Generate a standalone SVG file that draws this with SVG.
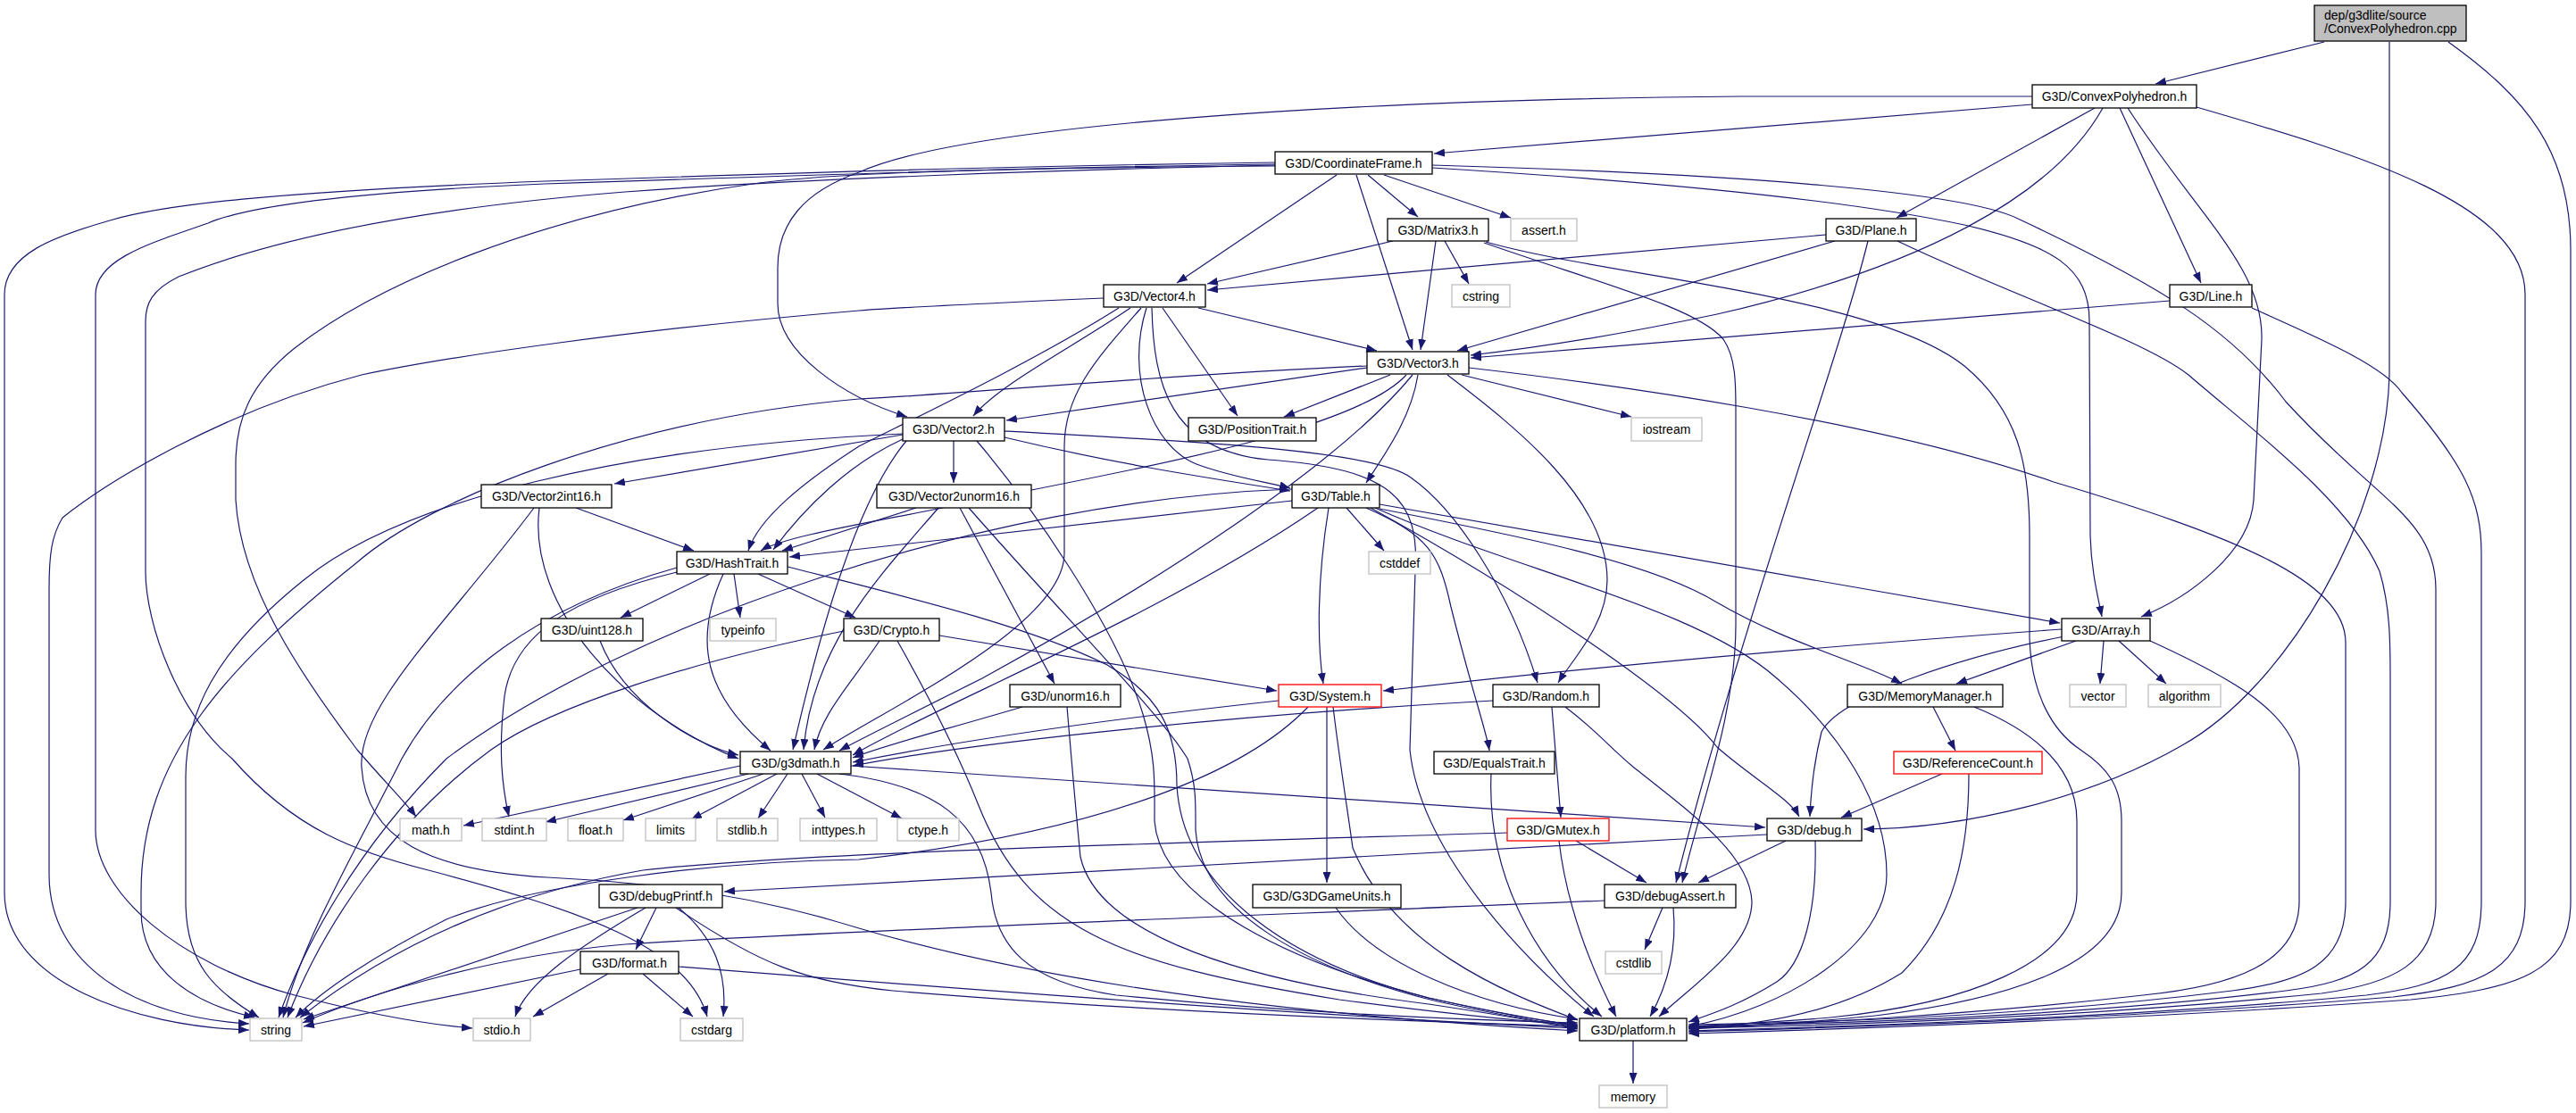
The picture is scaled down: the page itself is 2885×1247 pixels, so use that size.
<svg xmlns="http://www.w3.org/2000/svg" width="2885" height="1247" viewBox="0 0 2885 1247">
<defs>
<style>
.e{fill:none;stroke:#191970;stroke-width:1.2;marker-end:url(#a)}
.b rect{fill:#fff;stroke:#000;stroke-width:1.3}
.g rect{fill:#fff;stroke:#bfbfbf;stroke-width:1.3}
.r rect{fill:#fff;stroke:#ff0000;stroke-width:1.3}
.s rect{fill:#bfbfbf;stroke:#000;stroke-width:1.3}
text{font-family:"Liberation Sans",Arial,sans-serif;font-size:14px;text-anchor:middle;fill:#000}
.s text{text-anchor:start}
</style>
<marker id="a" viewBox="0 0 12 9" refX="12" refY="4.5" markerWidth="12" markerHeight="9" markerUnits="userSpaceOnUse" orient="auto"><path d="M0,0 L12,4.5 L0,9 z" fill="#191970"/></marker>
</defs>
<rect width="2885" height="1247" fill="#fff"/>
<g id="edges">
<path class="e" d="M2603,47 L2414,94"/>
<path class="e" d="M2676,47 L2676,420 C2672,580 2560,770 2444,835 C2340,895 2200,928 2087,929"/>
<path class="e" d="M2742,47 C2830,110 2879,170 2879,280 L2879,1010 C2879,1090 2820,1108 2700,1120 C2400,1142 2100,1152 1891,1158"/>
<path class="e" d="M2276,117 L1606,172"/>
<path class="e" d="M2276,108 L1950,108 C1500,112 1080,140 962,193 C900,215 871,250 871,300 L871,340 C871,395 945,445 1016,467"/>
<path class="e" d="M2346,121 L2124,244"/>
<path class="e" d="M2355,121 C2300,220 2150,300 1923,352 C1800,378 1700,392 1647,398"/>
<path class="e" d="M2374,121 L2465,317"/>
<path class="e" d="M2383,121 C2460,240 2535,300 2533,380 L2524,560 C2520,620 2450,670 2398,691"/>
<path class="e" d="M2460,120 C2650,175 2828,230 2828,330 L2828,1010 C2828,1085 2780,1106 2680,1117 C2400,1140 2100,1150 1891,1156"/>
<path class="e" d="M1497,196 L1318,317"/>
<path class="e" d="M1519,196 L1582,392"/>
<path class="e" d="M1532,196 L1588,243"/>
<path class="e" d="M1550,196 L1692,244"/>
<path class="e" d="M1604,188 C1800,200 2050,220 2200,252 C2300,275 2340,300 2340,360 L2341,600 C2342,640 2350,670 2354,691"/>
<path class="e" d="M1604,185 C1950,195 2200,215 2260,245 C2420,320 2500,370 2560,450 C2660,560 2728,580 2728,660 L2728,1010 C2728,1080 2680,1102 2600,1113 C2350,1138 2100,1148 1891,1152"/>
<path class="e" d="M1428,186 C1150,188 950,192 850,205 C600,240 420,320 330,390 C280,430 264,470 264,520 L264,560 C270,660 340,760 400,840 C430,875 455,900 466,915"/>
<path class="e" d="M1428,182 C1200,185 1000,190 610,203 C300,215 180,230 123,247 C60,265 5,285 5,330 L5,1000 C5,1100 150,1150 279,1154"/>
<path class="e" d="M1428,184 C1200,187 1000,193 610,206 C400,215 280,230 233,250 C170,272 107,290 107,330 L107,930 C107,1000 200,1080 330,1115 C420,1138 480,1148 529,1152"/>
<path class="e" d="M1428,185 C1200,190 900,200 700,215 C450,235 300,270 200,310 C170,325 163,340 163,360 L163,640 C163,700 200,800 260,850 C330,930 400,955 480,975 C650,1020 770,1060 792,1139"/>
<path class="e" d="M1560,270 L1352,318"/>
<path class="e" d="M1608,270 L1591,392"/>
<path class="e" d="M1618,270 L1645,318"/>
<path class="e" d="M1664,271 C1800,310 2100,330 2200,410 C2260,460 2273,520 2273,600 L2273,715 C2275,780 2300,820 2330,840 C2360,860 2376,880 2376,920 L2376,1000 C2376,1080 2250,1120 2100,1138 C2000,1148 1950,1150 1891,1153"/>
<path class="e" d="M1662,272 C1800,320 1900,345 1930,380 C1944,400 1944,430 1944,460 L1944,700 C1944,800 1905,900 1884,989"/>
<path class="e" d="M2045,263 L1352,325"/>
<path class="e" d="M2055,270 L1632,393"/>
<path class="e" d="M2092,270 C2060,400 1950,700 1877,989"/>
<path class="e" d="M2125,270 C2250,330 2400,380 2451,420 C2520,480 2630,560 2665,640 C2677,680 2677,720 2677,760 L2677,1010 C2677,1080 2640,1100 2560,1110 C2350,1136 2100,1146 1891,1150"/>
<path class="e" d="M2430,337 L1647,401"/>
<path class="e" d="M2522,345 C2600,380 2670,410 2690,440 C2760,520 2779,560 2779,620 L2779,1010 C2779,1085 2740,1104 2650,1115 C2400,1139 2100,1149 1891,1155"/>
<path class="e" d="M1266,345 C1200,390 1120,430 1090,466"/>
<path class="e" d="M1253,345 C1150,410 1000,480 962,500 C900,540 850,580 838,617"/>
<path class="e" d="M1278,345 C1230,400 1192,440 1192,500 L1192,620 C1192,700 1000,790 922,840"/>
<path class="e" d="M1284,345 C1260,420 1290,500 1340,520 C1380,535 1420,540 1445,547"/>
<path class="e" d="M1290,345 C1292,430 1310,505 1420,515 C1560,525 1590,560 1585,640 L1579,840 C1590,950 1700,1070 1785,1139"/>
<path class="e" d="M1302,345 L1386,466"/>
<path class="e" d="M1342,345 L1542,393"/>
<path class="e" d="M1236,334 C1100,340 1000,345 962,348 C700,370 500,400 405,420 C250,460 120,540 70,580 C58,600 55,620 55,660 L55,980 C55,1080 150,1140 279,1147"/>
<path class="e" d="M1557,420 L1438,467"/>
<path class="e" d="M1588,420 C1580,470 1550,510 1530,541"/>
<path class="e" d="M1621,420 C1700,480 1800,560 1800,650 C1800,700 1760,740 1745,765"/>
<path class="e" d="M1637,420 L1827,467"/>
<path class="e" d="M1531,412 L1127,471"/>
<path class="e" d="M1575,420 C1520,480 1300,520 1100,560 C980,585 880,600 852,617"/>
<path class="e" d="M1582,420 C1500,520 1300,650 1100,760 C1000,810 960,830 940,841"/>
<path class="e" d="M1531,410 C1300,420 1100,440 962,447 C700,470 480,560 400,630 C250,750 158,850 158,1000 L158,1020 C158,1090 220,1125 285,1140"/>
<path class="e" d="M1645,412 C1800,430 2100,470 2300,540 C2500,600 2627,650 2627,720 L2627,1010 C2627,1080 2580,1100 2500,1110 C2300,1135 2100,1145 1891,1148"/>
<path class="e" d="M1068,494 L1068,541"/>
<path class="e" d="M1011,487 L688,542"/>
<path class="e" d="M1125,490 C1250,520 1350,535 1445,550"/>
<path class="e" d="M1125,483 C1350,495 1540,505 1580,535 C1630,570 1690,660 1722,765"/>
<path class="e" d="M1011,492 C950,520 900,570 866,616"/>
<path class="e" d="M1015,494 C960,560 920,700 888,840"/>
<path class="e" d="M1011,486 C700,500 450,560 340,650 C240,730 208,800 208,870 L208,1010 C208,1080 240,1110 290,1140"/>
<path class="e" d="M1094,494 C1150,560 1250,700 1280,800 C1295,850 1293,880 1293,920 C1300,1010 1450,1080 1600,1118 C1680,1136 1730,1143 1767,1150"/>
<path class="e" d="M645,569 L777,617"/>
<path class="e" d="M604,569 C590,680 700,800 827,850"/>
<path class="e" d="M598,569 C500,700 400,790 405,860 C410,940 480,975 613,983 C750,990 850,1005 962,1040 C1200,1110 1500,1140 1767,1155"/>
<path class="e" d="M795,643 L695,692"/>
<path class="e" d="M822,643 L829,692"/>
<path class="e" d="M849,643 L958,692"/>
<path class="e" d="M810,643 C775,720 790,780 863,841"/>
<path class="e" d="M758,641 C640,670 575,710 565,780 C558,840 562,880 570,915"/>
<path class="e" d="M758,636 C600,680 500,760 450,850 C400,950 340,1050 317,1140"/>
<path class="e" d="M882,635 C1000,665 1150,700 1240,745 C1300,780 1318,820 1318,880 C1325,1000 1450,1080 1600,1118 C1680,1136 1730,1145 1767,1148"/>
<path class="e" d="M1052,712 L1430,774"/>
<path class="e" d="M985,718 C950,770 920,800 912,840"/>
<path class="e" d="M945,707 C780,740 620,790 550,840 C440,920 360,1040 322,1140"/>
<path class="e" d="M1005,718 C1040,780 1075,850 1095,900 C1150,1040 1250,1080 1500,1120 C1650,1140 1720,1145 1767,1149"/>
<path class="e" d="M672,718 C700,790 780,835 827,846"/>
<path class="e" d="M1145,792 C1050,820 990,835 955,849"/>
<path class="e" d="M1195,792 C1200,850 1204,900 1210,960 C1230,1050 1400,1100 1600,1125 C1700,1140 1740,1148 1767,1153"/>
<path class="e" d="M1026,569 L876,617"/>
<path class="e" d="M1075,569 L1181,766"/>
<path class="e" d="M1051,569 C990,640 910,720 900,840"/>
<path class="e" d="M1085,569 C1200,700 1300,800 1330,850 C1340,880 1339,900 1339,930 C1345,1020 1460,1085 1610,1122 C1690,1140 1735,1146 1767,1151"/>
<path class="e" d="M1447,561 L884,624"/>
<path class="e" d="M1508,569 L1550,617"/>
<path class="e" d="M1488,569 C1475,650 1475,720 1482,766"/>
<path class="e" d="M1476,569 C1300,690 1050,790 955,846"/>
<path class="e" d="M1530,569 C1600,600 1612,620 1625,680 C1650,780 1665,820 1668,841"/>
<path class="e" d="M1545,565 L2307,698"/>
<path class="e" d="M1545,570 C1700,600 1850,630 1923,675 C2000,720 2080,740 2130,766"/>
<path class="e" d="M1535,569 C1700,660 1880,780 1923,837 C1960,870 2005,895 2015,915"/>
<path class="e" d="M1447,548 C1100,560 700,700 500,850 C400,950 340,1060 312,1140"/>
<path class="e" d="M1540,569 C1700,640 1900,680 1990,760 C2060,820 2113,900 2113,980 C2113,1060 2000,1130 1891,1150"/>
<path class="e" d="M2309,705 C2100,720 1800,745 1549,774"/>
<path class="e" d="M2325,718 L2191,766"/>
<path class="e" d="M2356,718 L2352,766"/>
<path class="e" d="M2373,718 L2426,766"/>
<path class="e" d="M2312,713 C2200,735 2060,780 2040,820 C2030,860 2028,890 2027,915"/>
<path class="e" d="M2408,718 C2500,760 2573,800 2575,860 L2575,1010 C2575,1080 2500,1105 2400,1115 C2200,1138 2000,1148 1891,1151"/>
<path class="e" d="M1432,785 C1200,810 1050,835 955,854"/>
<path class="e" d="M1486,792 L1486,989"/>
<path class="e" d="M1465,792 C1400,860 1250,930 962,963 C800,965 600,990 500,1030 C420,1070 360,1110 331,1140"/>
<path class="e" d="M1493,792 C1500,850 1508,900 1515,950 C1560,1060 1680,1110 1767,1143"/>
<path class="e" d="M1672,785 C1400,800 1100,830 955,858"/>
<path class="e" d="M1738,792 L1748,916"/>
<path class="e" d="M1753,792 C1790,820 1800,835 1830,860 C1900,915 1960,960 1962,1010 C1962,1060 1900,1100 1858,1139"/>
<path class="e" d="M2165,792 L2190,841"/>
<path class="e" d="M2211,792 C2280,820 2326,860 2326,920 L2326,1000 C2326,1080 2200,1125 2050,1140 C1980,1146 1930,1148 1891,1150"/>
<path class="e" d="M829,858 L519,925"/>
<path class="e" d="M838,867 L611,921"/>
<path class="e" d="M855,867 L698,919"/>
<path class="e" d="M870,867 L774,918"/>
<path class="e" d="M882,867 L849,917"/>
<path class="e" d="M898,867 L924,916"/>
<path class="e" d="M915,867 L1010,917"/>
<path class="e" d="M953,858 L1977,927"/>
<path class="e" d="M940,867 C1050,880 1100,920 1110,1000 C1115,1060 1150,1100 1250,1115 C1450,1135 1650,1143 1767,1146"/>
<path class="e" d="M1670,867 C1665,980 1720,1080 1794,1139"/>
<path class="e" d="M2175,867 L2062,916"/>
<path class="e" d="M2205,867 C2205,950 2190,1030 2130,1090 C2050,1140 1950,1150 1891,1152"/>
<path class="e" d="M1765,942 L1844,989"/>
<path class="e" d="M1746,942 C1755,1020 1785,1090 1810,1139"/>
<path class="e" d="M1688,933 C1300,945 900,955 720,975 C520,1010 400,1090 336,1140"/>
<path class="e" d="M2000,942 L1902,989"/>
<path class="e" d="M1979,935 C1500,960 1000,985 811,999"/>
<path class="e" d="M2033,942 C2035,1020 2020,1080 1990,1100 C1950,1125 1920,1135 1891,1145"/>
<path class="e" d="M735,1017 L712,1064"/>
<path class="e" d="M714,1017 L340,1142"/>
<path class="e" d="M723,1017 C650,1060 590,1100 577,1139"/>
<path class="e" d="M760,1017 C800,1050 815,1090 810,1139"/>
<path class="e" d="M757,1017 C850,1080 900,1100 1000,1110 C1300,1135 1600,1145 1767,1150"/>
<path class="e" d="M1496,1017 C1540,1080 1650,1125 1767,1142"/>
<path class="e" d="M1862,1017 L1842,1064"/>
<path class="e" d="M1874,1017 C1878,1060 1870,1100 1848,1139"/>
<path class="e" d="M1797,1009 C1300,1030 900,1045 700,1058 C560,1070 420,1110 339,1146"/>
<path class="e" d="M650,1086 L340,1150"/>
<path class="e" d="M681,1091 L597,1139"/>
<path class="e" d="M720,1091 L776,1139"/>
<path class="e" d="M760,1083 C1100,1110 1500,1140 1767,1152"/>
<path class="e" d="M1829,1166 L1829,1214"/>
</g>
<g id="n_cpp" class="s"><rect x="2592" y="6" width="170" height="40"/><text x="2603" y="21.5">dep/g3dlite/source</text><text x="2603" y="37">/ConvexPolyhedron.cpp</text></g>
<g id="n_cph" class="b"><rect x="2276" y="95" width="184" height="26"/><text x="2368" y="113">G3D/ConvexPolyhedron.h</text></g>
<g id="n_cf" class="b"><rect x="1428" y="170" width="176" height="25"/><text x="1516" y="187.5">G3D/CoordinateFrame.h</text></g>
<g id="n_m3" class="b"><rect x="1554" y="245" width="113" height="25"/><text x="1610.5" y="262.5">G3D/Matrix3.h</text></g>
<g id="n_assert" class="g"><rect x="1692" y="245" width="74" height="25"/><text x="1729" y="262.5">assert.h</text></g>
<g id="n_plane" class="b"><rect x="2045" y="245" width="101" height="25"/><text x="2095.5" y="262.5">G3D/Plane.h</text></g>
<g id="n_v4" class="b"><rect x="1236" y="319" width="114" height="25"/><text x="1293" y="336.5">G3D/Vector4.h</text></g>
<g id="n_cstring" class="g"><rect x="1626" y="319" width="65" height="25"/><text x="1658.5" y="336.5">cstring</text></g>
<g id="n_line" class="b"><rect x="2430" y="319" width="92" height="25"/><text x="2476" y="336.5">G3D/Line.h</text></g>
<g id="n_v3" class="b"><rect x="1531" y="394" width="114" height="25"/><text x="1588" y="411.5">G3D/Vector3.h</text></g>
<g id="n_v2" class="b"><rect x="1011" y="468" width="114" height="26"/><text x="1068" y="486">G3D/Vector2.h</text></g>
<g id="n_post" class="b"><rect x="1331" y="468" width="143" height="26"/><text x="1402.5" y="486">G3D/PositionTrait.h</text></g>
<g id="n_iostream" class="g"><rect x="1827" y="468" width="79" height="26"/><text x="1866.5" y="486">iostream</text></g>
<g id="n_v2i16" class="b"><rect x="539" y="543" width="146" height="26"/><text x="612" y="561">G3D/Vector2int16.h</text></g>
<g id="n_v2u16" class="b"><rect x="982" y="543" width="173" height="26"/><text x="1068.5" y="561">G3D/Vector2unorm16.h</text></g>
<g id="n_table" class="b"><rect x="1447" y="543" width="98" height="26"/><text x="1496" y="561">G3D/Table.h</text></g>
<g id="n_hash" class="b"><rect x="758" y="618" width="124" height="25"/><text x="820" y="635.5">G3D/HashTrait.h</text></g>
<g id="n_cstddef" class="g"><rect x="1533" y="618" width="69" height="25"/><text x="1567.5" y="635.5">cstddef</text></g>
<g id="n_uint128" class="b"><rect x="606" y="693" width="114" height="25"/><text x="663" y="710.5">G3D/uint128.h</text></g>
<g id="n_typeinfo" class="g"><rect x="795" y="693" width="74" height="25"/><text x="832" y="710.5">typeinfo</text></g>
<g id="n_crypto" class="b"><rect x="945" y="693" width="107" height="25"/><text x="998.5" y="710.5">G3D/Crypto.h</text></g>
<g id="n_array" class="b"><rect x="2309" y="693" width="99" height="25"/><text x="2358.5" y="710.5">G3D/Array.h</text></g>
<g id="n_unorm16" class="b"><rect x="1131" y="767" width="124" height="25"/><text x="1193" y="784.5">G3D/unorm16.h</text></g>
<g id="n_system" class="r"><rect x="1432" y="767" width="115" height="25"/><text x="1489.5" y="784.5">G3D/System.h</text></g>
<g id="n_random" class="b"><rect x="1672" y="767" width="119" height="25"/><text x="1731.5" y="784.5">G3D/Random.h</text></g>
<g id="n_memmgr" class="b"><rect x="2069" y="767" width="174" height="25"/><text x="2156" y="784.5">G3D/MemoryManager.h</text></g>
<g id="n_vector" class="g"><rect x="2318" y="767" width="63" height="25"/><text x="2349.5" y="784.5">vector</text></g>
<g id="n_algorithm" class="g"><rect x="2406" y="767" width="81" height="25"/><text x="2446.5" y="784.5">algorithm</text></g>
<g id="n_g3dmath" class="b"><rect x="829" y="842" width="124" height="25"/><text x="891" y="859.5">G3D/g3dmath.h</text></g>
<g id="n_equals" class="b"><rect x="1606" y="842" width="135" height="25"/><text x="1673.5" y="859.5">G3D/EqualsTrait.h</text></g>
<g id="n_refcount" class="r"><rect x="2121" y="842" width="166" height="25"/><text x="2204" y="859.5">G3D/ReferenceCount.h</text></g>
<g id="n_math" class="g"><rect x="448" y="917" width="69" height="25"/><text x="482.5" y="934.5">math.h</text></g>
<g id="n_stdint" class="g"><rect x="540" y="917" width="72" height="25"/><text x="576" y="934.5">stdint.h</text></g>
<g id="n_float" class="g"><rect x="636" y="917" width="62" height="25"/><text x="667" y="934.5">float.h</text></g>
<g id="n_limits" class="g"><rect x="723" y="917" width="56" height="25"/><text x="751" y="934.5">limits</text></g>
<g id="n_stdlib" class="g"><rect x="803" y="917" width="68" height="25"/><text x="837" y="934.5">stdlib.h</text></g>
<g id="n_inttypes" class="g"><rect x="896" y="917" width="86" height="25"/><text x="939" y="934.5">inttypes.h</text></g>
<g id="n_ctype" class="g"><rect x="1005" y="917" width="69" height="25"/><text x="1039.5" y="934.5">ctype.h</text></g>
<g id="n_gmutex" class="r"><rect x="1688" y="917" width="114" height="25"/><text x="1745" y="934.5">G3D/GMutex.h</text></g>
<g id="n_debug" class="b"><rect x="1979" y="917" width="106" height="25"/><text x="2032" y="934.5">G3D/debug.h</text></g>
<g id="n_dprintf" class="b"><rect x="671" y="991" width="138" height="26"/><text x="740" y="1009">G3D/debugPrintf.h</text></g>
<g id="n_units" class="b"><rect x="1403" y="991" width="166" height="26"/><text x="1486" y="1009">G3D/G3DGameUnits.h</text></g>
<g id="n_dassert" class="b"><rect x="1797" y="991" width="147" height="26"/><text x="1870.5" y="1009">G3D/debugAssert.h</text></g>
<g id="n_format" class="b"><rect x="650" y="1066" width="110" height="25"/><text x="705" y="1083.5">G3D/format.h</text></g>
<g id="n_cstdlib" class="g"><rect x="1798" y="1066" width="63" height="25"/><text x="1829.5" y="1083.5">cstdlib</text></g>
<g id="n_string" class="g"><rect x="280" y="1141" width="58" height="25"/><text x="309" y="1158.5">string</text></g>
<g id="n_stdio" class="g"><rect x="530" y="1141" width="64" height="25"/><text x="562" y="1158.5">stdio.h</text></g>
<g id="n_cstdarg" class="g"><rect x="762" y="1141" width="70" height="25"/><text x="797" y="1158.5">cstdarg</text></g>
<g id="n_platform" class="b"><rect x="1769" y="1141" width="120" height="25"/><text x="1829" y="1158.5">G3D/platform.h</text></g>
<g id="n_memory" class="g"><rect x="1791" y="1216" width="76" height="25"/><text x="1829" y="1233.5">memory</text></g>
</svg>
